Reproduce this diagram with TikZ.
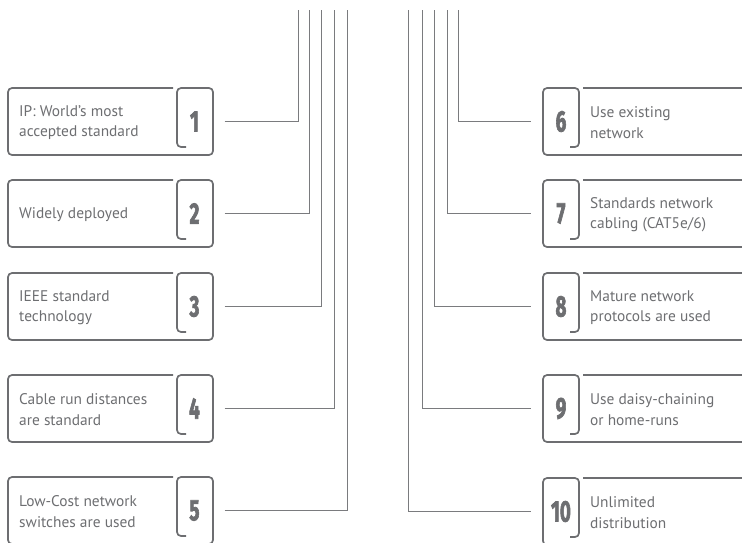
\documentclass[tikz,border=0pt]{standalone}
\usepackage{fontspec}
\setmainfont{PT Sans}
\newfontfamily\numfont[FakeBold=3]{Fira Sans}
\usepackage{tikz}
\usetikzlibrary{positioning}
\definecolor{frameGray}{HTML}{6D6E71}
\definecolor{wireGray}{HTML}{7A7B7E}
\tikzset{
    frame/.style={frameGray, line width=1.7pt, rounded corners=4pt},
    wire/.style={wireGray, line width=0.9pt},
    label/.style={text=frameGray, inner sep=0pt, align=left, font=\fontsize{15.4}{20.5}\selectfont},
    num/.style={text=frameGray, inner sep=0pt, minimum width=36pt, minimum height=67pt,
        font=\numfont\bfseries\fontsize{29.5}{29.5}\selectfont},
}
\tikzset{
    leftFrame/.pic={
		\draw[frame] (165,0) -- (0,0) -- (0,67) -- (205,67) -- (205,0) -- (169,0) -- (169,59) -- (178,59);
	}
}
\tikzset{
    rightFrame/.pic={
		\draw[frame] (40,0) -- (240,0) -- (240,67) -- (0,67) -- (0,0) -- (36,0) -- (36,59) -- (27,59);
	}
}
\newcommand{\digits}[1]{\scalebox{0.64}[1]{#1}}

\begin{document}
\begin{tikzpicture}[x=1pt, y=-1pt]
			\clip (0,0) rectangle (742,542);
			% left column
			\pic at(8,88) {leftFrame};
			\pic at(8,180) {leftFrame};
			\pic at(8,273) {leftFrame};
			\pic at(8,375) {leftFrame};
			\pic at(8,477) {leftFrame};
			\node[label, anchor=west] (t1) at (19,122.5) {IP: World’s most\\accepted standard};
			\node[label, anchor=west] (t2) at (19,214.5) {Widely deployed};
			\node[label, anchor=west] (t3) at (19,307.5) {IEEE standard\\technology};
			\node[label, anchor=west] (t4) at (19,409.5) {Cable run distances\\are standard};
			\node[label, anchor=west] (t5) at (19,511.5) {Low-Cost network\\switches are used};
			\node[num] (n1) at (194.5,121.5) {\digits{1}};
			\node[num] (n2) at (194.5,213.5) {\digits{2}};
			\node[num] (n3) at (194.5,306.5) {\digits{3}};
			\node[num] (n4) at (194.5,408.5) {\digits{4}};
			\node[num] (n5) at (194.5,510.5) {\digits{5}};
			% right column
			\pic at(543,88) {rightFrame};
			\pic at(543,180) {rightFrame};
			\pic at(543,273) {rightFrame};
			\pic at(543,375) {rightFrame};
			\pic at(543,478) {rightFrame};
			\node[num] (n6) at (561,121.5) {\digits{6}};
			\node[num] (n7) at (561,213.5) {\digits{7}};
			\node[num] (n8) at (561,306.5) {\digits{8}};
			\node[num] (n9) at (561,408.5) {\digits{9}};
			\node[num] (n10) at (561,511.5) {\digits{10}};
			\node[label, anchor=west] (t6) at (590,122.5) {Use existing\\network};
			\node[label, anchor=west] (t7) at (590,214.5) {Standards network\\cabling (CAT5e/6)};
			\node[label, anchor=west] (t8) at (590,307.5) {Mature network\\protocols are used};
			\node[label, anchor=west] (t9) at (590,409.5) {Use daisy-chaining\\or home-runs};
			\node[label, anchor=west] (t10) at (590,512.5) {Unlimited\\distribution};
			% bundle ends
			\coordinate (top1) at (298,10);
			\coordinate (top2) at (309,10);
			\coordinate (top3) at (321,10);
			\coordinate (top4) at (334,10);
			\coordinate (top5) at (347,10);
			\coordinate (top6) at (458,10);
			\coordinate (top7) at (447,10);
			\coordinate (top8) at (434,10);
			\coordinate (top9) at (422,10);
			\coordinate (top10) at (408,10);
			\draw[wire] ([xshift=12pt]n1.east) -| (top1);
			\draw[wire] ([xshift=12pt]n2.east) -| (top2);
			\draw[wire] ([xshift=12pt]n3.east) -| (top3);
			\draw[wire] ([xshift=12pt]n4.east) -| (top4);
			\draw[wire] ([xshift=12pt]n5.east) -| (top5);
			\draw[wire] ([xshift=-12pt]n6.west) -| (top6);
			\draw[wire] ([xshift=-12pt]n7.west) -| (top7);
			\draw[wire] ([xshift=-12pt]n8.west) -| (top8);
			\draw[wire] ([xshift=-12pt]n9.west) -| (top9);
			\draw[wire] ([xshift=-12pt]n10.west) -| (top10);
	\end{tikzpicture}
\end{document}
